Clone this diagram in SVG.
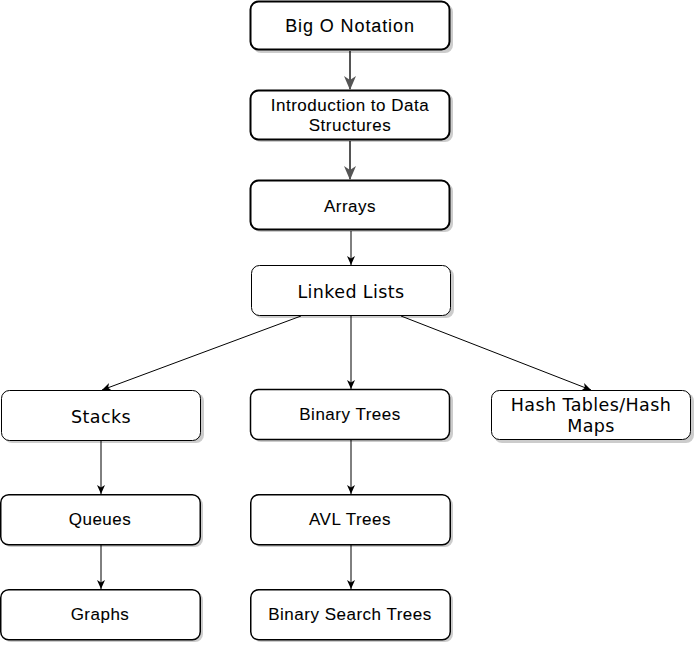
<svg xmlns="http://www.w3.org/2000/svg" width="694" height="646" viewBox="0 0 694 646">
<style>
.box{fill:#fff;stroke:#000;}
.sh{fill:#000;opacity:0.2;}
.t1{font-family:"Liberation Sans",Arial,sans-serif;font-size:17px;fill:#000;text-anchor:middle;letter-spacing:0.5px;stroke:#000;stroke-width:0.08px;}
.t2{font-family:"DejaVu Sans",Verdana,sans-serif;font-size:17.5px;fill:#000;text-anchor:middle;letter-spacing:0.4px;}
.thick{stroke:#555;stroke-width:2;fill:none;}
.thin{stroke:#000;stroke-width:1;fill:none;}
</style>
<defs>
<marker id="ah" markerUnits="userSpaceOnUse" viewBox="0 0 14 12" markerWidth="14" markerHeight="12" refX="13" refY="6" orient="auto">
<path d="M0,0 L14,6 L0,12 L4,6 z" fill="#555"/>
</marker>
<marker id="at" markerUnits="userSpaceOnUse" viewBox="0 0 9 8" markerWidth="9" markerHeight="8" refX="9" refY="4" orient="auto">
<path d="M0,0 L9,4 L0,8 L2.5,4 z" fill="#000"/>
</marker>
</defs>
<g id="connectors">
<line class="thick" x1="350" y1="51" x2="350" y2="89" marker-end="url(#ah)"/>
<line class="thick" x1="350" y1="141" x2="350" y2="179" marker-end="url(#ah)"/>
<line class="thin" x1="351" y1="231" x2="351" y2="265" marker-end="url(#at)"/>
<line class="thin" x1="301" y1="316" x2="102" y2="390" marker-end="url(#at)"/>
<line class="thin" x1="351" y1="316" x2="351" y2="389" marker-end="url(#at)"/>
<line class="thin" x1="401" y1="316" x2="591" y2="390" marker-end="url(#at)"/>
<line class="thin" x1="101" y1="441" x2="101" y2="494" marker-end="url(#at)"/>
<line class="thin" x1="101" y1="545" x2="101" y2="589" marker-end="url(#at)"/>
<line class="thin" x1="351" y1="440" x2="351" y2="494" marker-end="url(#at)"/>
<line class="thin" x1="351" y1="545" x2="351" y2="589" marker-end="url(#at)"/>
</g>
<g id="bigo">
<rect class="sh" x="253" y="4" width="200" height="49" rx="8"/>
<rect class="box" x="250.5" y="1.5" width="199" height="48" rx="8" stroke-width="2"/>
<text class="t1" x="350" y="32" style="font-size:18px;letter-spacing:0.9px">Big O Notation</text>
</g>
<g id="intro">
<rect class="sh" x="253" y="93" width="200" height="49" rx="8"/>
<rect class="box" x="250.5" y="90.5" width="199" height="49" rx="8" stroke-width="2"/>
<text class="t1" x="350" y="111">Introduction to Data</text>
<text class="t1" x="350" y="131">Structures</text>
</g>
<g id="arrays">
<rect class="sh" x="253" y="183" width="200" height="49" rx="8"/>
<rect class="box" x="250.5" y="180.5" width="199" height="49" rx="8" stroke-width="2"/>
<text class="t1" x="350" y="212">Arrays</text>
</g>
<g id="linked">
<rect class="sh" x="254" y="268" width="200" height="50" rx="8"/>
<rect class="box" x="251.5" y="265.5" width="199" height="50" rx="8" stroke-width="1"/>
<text class="t2" x="351" y="298">Linked Lists</text>
</g>
<g id="stacks">
<rect class="sh" x="4" y="393" width="200" height="50" rx="8"/>
<rect class="box" x="1.5" y="390.5" width="199" height="50" rx="8" stroke-width="1"/>
<text class="t2" x="101" y="423">Stacks</text>
</g>
<g id="binary">
<rect class="sh" x="253" y="392" width="200" height="50" rx="8"/>
<rect class="box" x="250.5" y="389.5" width="199" height="50" rx="8" stroke-width="1.5"/>
<text class="t1" x="350" y="420">Binary Trees</text>
</g>
<g id="hash">
<rect class="sh" x="494" y="393" width="200" height="50" rx="8"/>
<rect class="box" x="491.5" y="390.5" width="199" height="49" rx="8" stroke-width="1"/>
<text class="t2" x="591" y="411">Hash Tables/Hash</text>
<text class="t2" x="591" y="432">Maps</text>
</g>
<g id="queues">
<rect class="sh" x="3" y="497" width="200" height="50" rx="8"/>
<rect class="box" x="0.75" y="494.75" width="199.5" height="50" rx="8" stroke-width="1.5"/>
<text class="t1" x="100" y="525">Queues</text>
</g>
<g id="avl">
<rect class="sh" x="253" y="497" width="200" height="50" rx="8"/>
<rect class="box" x="250.75" y="494.75" width="199.5" height="50" rx="8" stroke-width="1.5"/>
<text class="t1" x="350" y="525">AVL Trees</text>
</g>
<g id="graphs">
<rect class="sh" x="3" y="592" width="200" height="50" rx="8"/>
<rect class="box" x="0.75" y="589.75" width="199.5" height="50" rx="8" stroke-width="1.5"/>
<text class="t1" x="100" y="620">Graphs</text>
</g>
<g id="bst">
<rect class="sh" x="253" y="592" width="200" height="50" rx="8"/>
<rect class="box" x="250.75" y="589.75" width="199.5" height="50" rx="8" stroke-width="1.5"/>
<text class="t1" x="350" y="620">Binary Search Trees</text>
</g>
</svg>
